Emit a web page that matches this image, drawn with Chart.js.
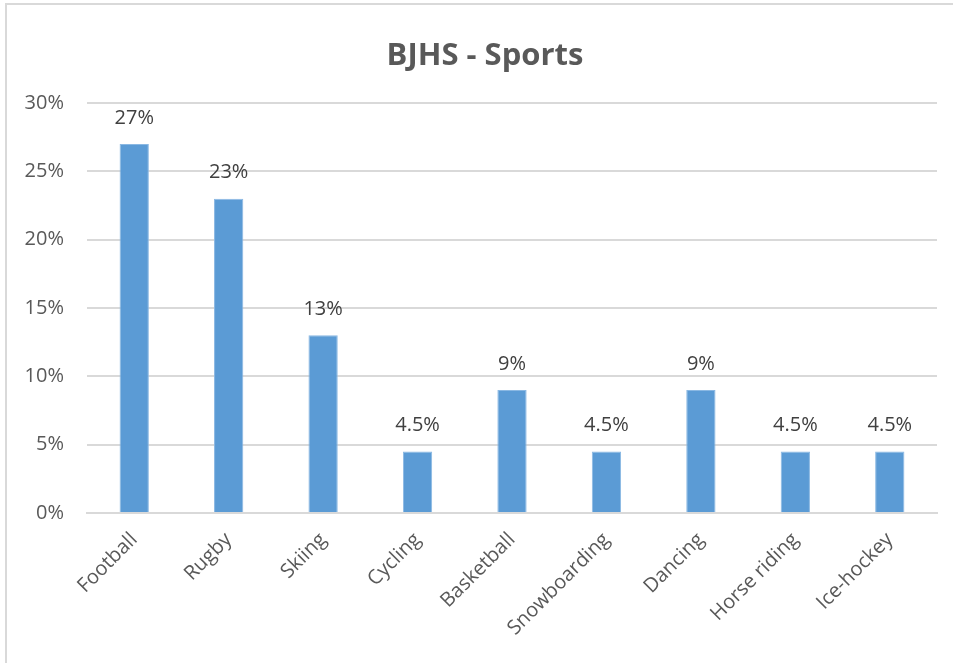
<!DOCTYPE html>
<html>
<head>
<meta charset="utf-8">
<script src="https://cdn.jsdelivr.net/npm/chart.js@4.4.0/dist/chart.umd.min.js"></script>
<style>
  html, body { margin: 0; padding: 0; background: #fff; overflow: hidden; }
  #wrap { position: relative; width: 953px; height: 663px; }
  #frame { position: absolute; left: 5px; top: 3px; width: 1000px; height: 1000px; border: 2px solid #d9d9d9; box-sizing: border-box; }
  canvas { position: absolute; left: 0; top: 0; }
</style>
</head>
<body>
<div id="wrap">
  <div id="frame"></div>
  <canvas id="c" width="953" height="663"></canvas>
</div>
<script>
const categories = ["Football", "Rugby", "Skiing", "Cycling", "Basketball", "Snowboarding", "Dancing", "Horse riding", "Ice-hockey"];
const values = [27, 23, 13, 4.5, 9, 4.5, 9, 4.5, 4.5];
const valueLabels = ["27%", "23%", "13%", "4.5%", "9%", "4.5%", "9%", "4.5%", "4.5%"];
const yTicks = [0, 5, 10, 15, 20, 25, 30];
const title = "BJHS - Sports";

const FONT = "'Open Sans', sans-serif";

const dataLabels = {
  id: 'dataLabels',
  afterDatasetsDraw(chart) {
    const ctx = chart.ctx;
    const meta = chart.getDatasetMeta(0);
    ctx.save();
    ctx.font = "20px " + FONT;
    ctx.fillStyle = "#404040";
    ctx.textAlign = "center";
    ctx.textBaseline = "middle";
    meta.data.forEach((bar, i) => {
      ctx.fillText(valueLabels[i], bar.x, bar.y - 26);
    });
    ctx.restore();
  }
};

const titlePlugin = {
  id: 'titlePlugin',
  afterDraw(chart) {
    const ctx = chart.ctx;
    ctx.save();
    ctx.font = "bold 31px " + FONT;
    ctx.fillStyle = "#595959";
    ctx.textAlign = "center";
    ctx.textBaseline = "middle";
    ctx.fillText(title, 485, 56);
    ctx.restore();
  }
};

new Chart(document.getElementById('c'), {
  type: 'bar',
  data: {
    labels: categories,
    datasets: [{
      data: values,
      backgroundColor: '#5b9bd5',
      borderColor: '#8ab8e3',
      borderWidth: 1,
      barPercentage: 0.31,
      categoryPercentage: 1
    }]
  },
  options: {
    responsive: false,
    animation: false,
    devicePixelRatio: 1,
    layout: { padding: { left: 0, right: 16, top: 103, bottom: 0 } },
    plugins: {
      legend: { display: false },
      tooltip: { enabled: false },
      title: { display: false }
    },
    scales: {
      x: {
        grid: { display: false, drawTicks: false },
        border: { display: true, color: '#d9d9d9', width: 2 },
        ticks: {
          color: '#595959',
          font: { family: FONT, size: 20 },
          minRotation: 45,
          maxRotation: 45,
          padding: 15
        },
        afterFit(scale) { scale.height = 150; }
      },
      y: {
        min: 0,
        max: 30,
        afterBuildTicks(scale) { scale.ticks = yTicks.map(v => ({ value: v })); },
        grid: { color: '#d9d9d9', lineWidth: 2, drawTicks: false },
        border: { display: false },
        ticks: {
          color: '#595959',
          font: { family: FONT, size: 20 },
          padding: 23,
          callback: v => v + '%'
        },
        afterFit(scale) { scale.width = 87; }
      }
    }
  },
  plugins: [dataLabels, titlePlugin]
});
</script>
</body>
</html>
